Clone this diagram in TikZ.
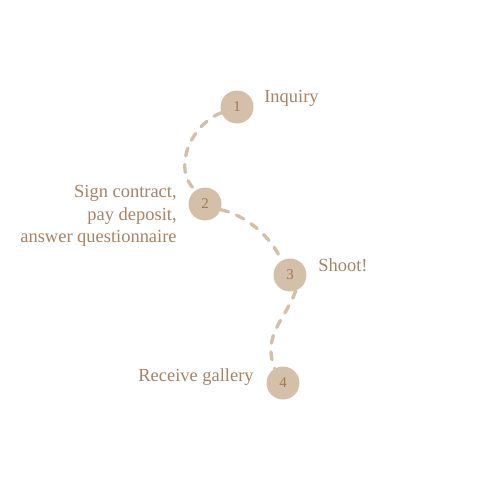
\documentclass[tikz,border=0pt]{standalone}
\usepackage{fontspec}
\setmainfont{Liberation Serif}
\definecolor{blob}{HTML}{D4BFA8}
\definecolor{ink}{HTML}{A98364}
\definecolor{numink}{HTML}{9A7A5E}

\begin{document}
\begin{tikzpicture}[x=0.02cm, y=-0.02cm,
    stepdot/.style={circle, fill=blob, minimum size=0.66cm, inner sep=0pt,
        text=numink, font=\fontsize{8.5}{8.5}\selectfont},
    steplabel/.style={text=ink, font=\fontsize{10.5}{12.8}\selectfont, inner sep=0pt},
    trail/.style={blob, line width=1.9pt, dash pattern=on 4.5pt off 5pt, line cap=round}]
    \useasboundingbox[fill=white] (0,0) rectangle (494,494);

    % steps
    \node[stepdot] (n1) at (237,107) {1};
    \node[stepdot] (n2) at (205,204) {2};
    \node[stepdot] (n3) at (290,275) {3};
    \node[stepdot] (n4) at (283,383) {4};

    % labels
    \node[steplabel, anchor=west] (l1) at (264,98) {Inquiry};
    \node[steplabel, anchor=east, align=right] (l2) at (177,216) {Sign contract,\\pay deposit,\\answer questionnaire};
    \node[steplabel, anchor=west] (l3) at (318,265) {Shoot!};
    \node[steplabel, anchor=east] (l4) at (254,377) {Receive gallery};

    % dashed trail
    \draw[trail] (n1.200) .. controls (190,125) and (172,170) .. (n2.125);
    \draw[trail] (n2.-20) .. controls (245,215) and (270,235) .. (n3.120);
    \draw[trail] (n3.-70) .. controls (285,320) and (262,335) .. (n4.120);
\end{tikzpicture}
\end{document}
